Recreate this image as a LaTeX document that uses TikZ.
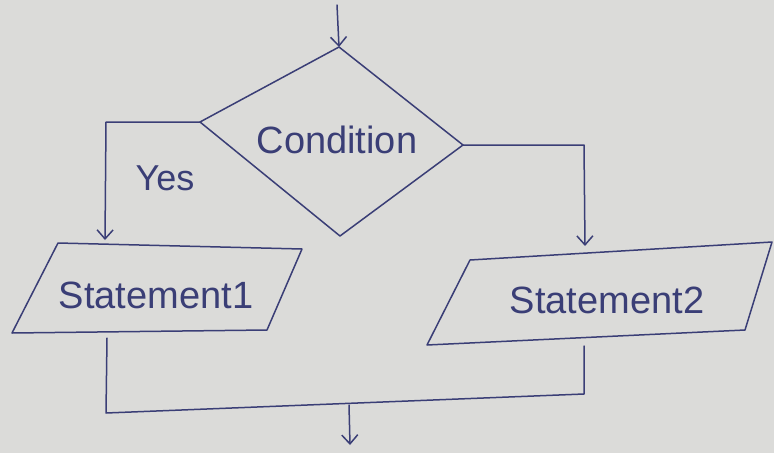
\documentclass[tikz,border=0pt]{standalone}
\usepackage{fontspec}
\setmainfont{Liberation Sans}
\usetikzlibrary{arrows.meta}
\definecolor{paper}{RGB}{219,219,217}
\definecolor{inkblue}{RGB}{58,62,118}
\begin{document}
\begin{tikzpicture}[x=1pt,y=-1pt,
  ink/.style={draw=inkblue,line width=1.5pt,line join=round,line cap=round},
  arr/.style={ink,-{Straight Barb[length=9pt,width=16pt,line width=1.5pt]}},
  lbl/.style={text=inkblue,font=\fontsize{38}{40}\selectfont,inner sep=0pt}]
\fill[paper] (0,0) rectangle (774,453);
\useasboundingbox (0,0) rectangle (774,453);

% decision diamond
\coordinate (dT) at (339,47);
\coordinate (dL) at (200,122);
\coordinate (dR) at (463,145);
\coordinate (dB) at (340,236);
\draw[ink] (dT) -- (dR) -- (dB) -- (dL) -- cycle;
\node[lbl] (cond) at (337,140) {Condition};

% statement boxes (parallelograms)
\coordinate (aTL) at (58,243);
\coordinate (aTR) at (302,249);
\coordinate (aBR) at (267,330);
\coordinate (aBL) at (12,333);
\draw[ink] (aTL) -- (aTR) -- (aBR) -- (aBL) -- cycle;
\node[lbl] (st1) at (156,295) {Statement1};

\coordinate (bTL) at (470,260);
\coordinate (bTR) at (772,242);
\coordinate (bBR) at (745,330);
\coordinate (bBL) at (427,345);
\draw[ink] (bTL) -- (bTR) -- (bBR) -- (bBL) -- cycle;
\node[lbl] (st2) at (607,300) {Statement2};

% flow lines
\coordinate (in) at (337,5);
\draw[arr] (in) -- (dT);

\coordinate (yesTurn) at (106,122);
\coordinate (yesIn) at (105,240);
\draw[arr] (dL) -- (yesTurn) -- (yesIn);
\node[lbl,font=\fontsize{36}{38}\selectfont] (yes) at (165,178) {Yes};

\coordinate (noTurn) at (584,145);
\coordinate (noIn) at (585,246);
\draw[arr] (dR) -- (noTurn) -- (noIn);

\coordinate (aOut) at (107,338);
\coordinate (aCorner) at (106,413);
\coordinate (bOut) at (584,346);
\coordinate (bCorner) at (584,394);
\draw[ink] (aOut) -- (aCorner) -- (bCorner) -- (bOut);

\coordinate (merge) at (349,405);
\coordinate (out) at (350,445);
\draw[arr] (merge) -- (out);
\end{tikzpicture}
\end{document}
